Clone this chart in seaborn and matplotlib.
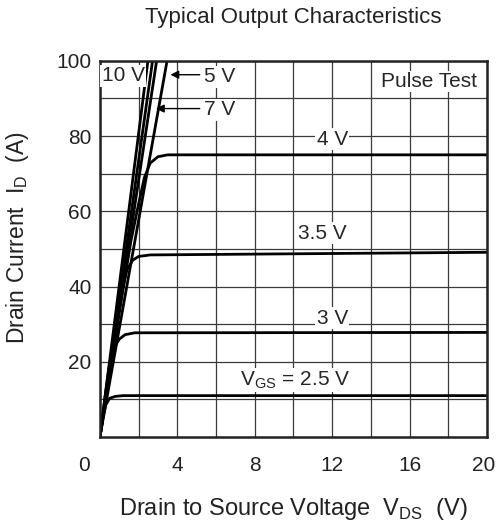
import matplotlib
matplotlib.use("Agg")
import matplotlib.pyplot as plt
import matplotlib.transforms as mtransforms
import seaborn as sns
import pandas as pd

# ---------- data ----------
# steep curves (VGS = 10 V ... 5 V), they leave the top of the frame
vds_steep = [[0, 2.48], [0, 2.72], [0, 2.93], [0, 3.47]]
id_steep = [[0, 100], [0, 100], [0, 100], [0, 100]]

vds_4v = [0, 1.0, 1.6, 2.0, 2.3, 2.6, 3.0, 3.5, 20]
id_4v = [0, 33, 52, 62, 69, 72.8, 74.5, 75, 75]

vds_35v = [0, 1.0, 1.2, 1.4, 1.7, 2.0, 2.6, 20]
id_35v = [0, 34, 40, 44.5, 47, 48, 48.4, 49.1]

vds_3v = [0, 0.3, 0.5, 0.75, 1.0, 1.3, 1.8, 20]
id_3v = [0, 12, 19.5, 24, 26, 27.2, 27.7, 27.8]

vds_25v = [0, 0.15, 0.3, 0.5, 0.8, 1.2, 20]
id_25v = [0, 5, 8.5, 10.3, 10.8, 11, 11]

x_ticks = [0, 4, 8, 12, 16, 20]
y_ticks = [20, 40, 60, 80, 100]

# ---------- build table ----------
filas = []
for i, (vv, ii) in enumerate(zip(vds_steep, id_steep)):
    for v, c in zip(vv, ii):
        filas.append({"curva": f"steep{i}", "vds": v, "id": c})
for nombre, vv, ii in [("4V", vds_4v, id_4v), ("3.5V", vds_35v, id_35v),
                       ("3V", vds_3v, id_3v), ("2.5V", vds_25v, id_25v)]:
    for v, c in zip(vv, ii):
        filas.append({"curva": nombre, "vds": v, "id": c})
df = pd.DataFrame(filas)

# ---------- plot ----------
sns.set_style("white")
plt.rcParams["font.family"] = ["Liberation Sans", "DejaVu Sans"]

fig = plt.figure(figsize=(4.97, 5.24), dpi=100)
ax = fig.add_axes([0.201, 0.166, 0.779, 0.718])

ax.set_xlim(0, 20)
ax.set_ylim(0, 100)
ax.set_xticks(x_ticks)
ax.set_xticks([2, 6, 10, 14, 18], minor=True)
ax.set_yticks(y_ticks)
ax.set_yticks([10, 30, 50, 70, 90], minor=True)
ax.grid(True, which="both", color="#3a3a3a", lw=0.9)
ax.set_axisbelow(True)

for nombre, grupo in df.groupby("curva", sort=False):
    sns.lineplot(data=grupo, x="vds", y="id", color="black", lw=2.0,
                 sort=False, estimator=None, legend=False, ax=ax)

for s in ax.spines.values():
    s.set_color("#222222")
    s.set_linewidth(1.8)

ax.tick_params(axis="both", which="both", length=0, labelsize=15, colors="#222222")
ax.tick_params(axis="x", pad=14)
ax.tick_params(axis="y", pad=6)
ax.set_xticklabels([str(t) for t in x_ticks])
ax.set_yticklabels([str(t) for t in y_ticks])
# the "0" sits off to the left of the corner, the "20" is nudged in a little
etiquetas = ax.get_xticklabels()
etiquetas[0].set_transform(etiquetas[0].get_transform() + mtransforms.ScaledTranslation(-16 / 100, 0, fig.dpi_scale_trans))
etiquetas[-1].set_transform(etiquetas[-1].get_transform() + mtransforms.ScaledTranslation(-3 / 100, 0, fig.dpi_scale_trans))

ax.set_xlabel(r"Drain to Source Voltage  V$_\mathregular{DS}$  (V)", fontsize=17, labelpad=15, color="#222222")
ax.set_ylabel(r"Drain Current  I$_\mathregular{D}$  (A)", fontsize=16.5, color="#222222")
ax.yaxis.label.set_va("center")
ax.yaxis.set_label_coords(-0.212, 0.53)
fig.text(0.59, 0.966, "Typical Output Characteristics", ha="center", va="center", fontsize=16, color="#222222")

caja = dict(facecolor="white", edgecolor="none", pad=1.0)
fs = 15
ax.text(17.0, 94.5, "Pulse Test", ha="center", va="center", fontsize=fs, bbox=caja)
ax.text(1.2, 96.0, "10 V", ha="center", va="center", fontsize=fs, bbox=caja)
ax.text(6.2, 95.8, "5 V", ha="center", va="center", fontsize=fs, bbox=caja)
ax.text(6.2, 87.0, "7 V", ha="center", va="center", fontsize=fs, bbox=caja)
ax.annotate("", xy=(3.5, 96.3), xytext=(5.3, 96.3),
            arrowprops=dict(arrowstyle="-|>", color="black", lw=1.0, mutation_scale=12))
ax.annotate("", xy=(2.75, 87.3), xytext=(5.3, 87.3),
            arrowprops=dict(arrowstyle="-|>", color="black", lw=1.0, mutation_scale=12))
ax.text(12.0, 79.2, "4 V", ha="center", va="center", fontsize=fs, bbox=caja)
ax.text(11.5, 54.2, "3.5 V", ha="center", va="center", fontsize=fs, bbox=caja)
ax.text(12.0, 31.6, "3 V", ha="center", va="center", fontsize=fs, bbox=caja)
ax.text(10.1, 15.2, r"V$_\mathregular{GS}$ = 2.5 V", ha="center", va="center", fontsize=fs, bbox=caja)

fig.savefig("out.png", dpi=100)
